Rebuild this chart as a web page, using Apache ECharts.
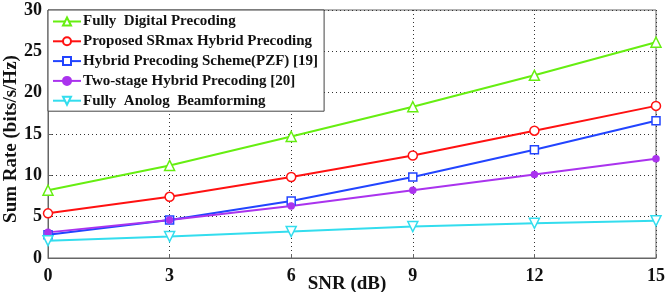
<!DOCTYPE html>
<html><head><meta charset="utf-8">
<script src="https://cdn.jsdelivr.net/npm/echarts@6/dist/echarts.min.js"></script>
<style>html,body{margin:0;padding:0;background:#fff}#c{width:665px;height:292px}</style>
</head><body><div id="c"></div>
<script>
const snr = [0, 3, 6, 9, 12, 15];
const names = ['Fully  Digital Precoding', 'Proposed SRmax Hybrid Precoding', 'Hybrid Precoding Scheme(PZF) [19]', 'Two-stage Hybrid Precoding [20]', 'Fully  Anolog  Beamforming'];
const digital = [8.2, 11.2, 14.7, 18.3, 22.1, 26.1];
const proposed = [5.4, 7.4, 9.8, 12.4, 15.4, 18.4];
const pzf = [2.8, 4.6, 6.9, 9.8, 13.1, 16.6];
const twoStage = [3.1, 4.6, 6.3, 8.2, 10.1, 12.0];
const analog = [2.1, 2.6, 3.2, 3.8, 4.2, 4.5];
const yTicks = [0, 5, 10, 15, 20, 25, 30];
const xTicks = [0, 3, 6, 9, 12, 15];

const font = 'Liberation Serif, Times New Roman, serif';
const pair = arr => snr.map((x, i) => [x, arr[i]]);
const mk = (name, data, color, symbol, size, hollow, rot) => ({
  name, type: 'line', data: pair(data), symbol, symbolSize: size, symbolRotate: rot || 0,
  lineStyle: { color, width: 2 },
  itemStyle: { color: hollow ? '#fff' : color, borderColor: color, borderWidth: 1.5 },
  emphasis: { disabled: true }, animation: false
});
const chart = echarts.init(document.getElementById('c'));
chart.setOption({
  animation: false,
  grid: { left: 48, right: 9, top: 10, bottom: 34, outerBoundsMode: 'none', containLabel: false, show: true, borderColor: '#666', borderWidth: 1, backgroundColor: 'transparent' },
  legend: {
    orient: 'vertical', left: 48, top: 10, data: names,
    itemWidth: 28, itemHeight: 10, itemGap: 4.8,
    padding: [4, 6, 3, 4], borderColor: '#444', borderWidth: 1, backgroundColor: '#fff',
    textStyle: { fontFamily: font, fontWeight: 'bold', fontSize: 15, color: '#111', padding: [0, 0, 0, -3] }
  },
  xAxis: {
    type: 'value', min: 0, max: 15, interval: 3,
    name: 'SNR (dB)', nameLocation: 'middle', nameGap: 17, nameMoveOverlap: false,
    nameTextStyle: { fontFamily: font, fontWeight: 'bold', fontSize: 19, color: '#111', padding: [0, 10, 0, 0], verticalAlign: 'top' },
    axisLine: { lineStyle: { color: '#666' } },
    axisTick: { inside: true, length: 4, lineStyle: { color: '#666' } },
    axisLabel: { fontFamily: font, fontWeight: 'bold', fontSize: 18, color: '#111', margin: 9 },
    splitLine: { show: true, lineStyle: { color: '#333', type: [1, 3], width: 1 } }
  },
  yAxis: {
    type: 'value', min: 0, max: 30, interval: 5,
    name: 'Sum Rate (bits/s/Hz)', nameLocation: 'middle', nameGap: 27, nameMoveOverlap: false,
    nameTextStyle: { fontFamily: font, fontWeight: 'bold', fontSize: 19, color: '#111', padding: [0, 10, 0, 0] },
    axisLine: { show: true, lineStyle: { color: '#666' } },
    axisTick: { show: true, inside: true, length: 4, lineStyle: { color: '#666' } },
    axisLabel: { fontFamily: font, fontWeight: 'bold', fontSize: 18, color: '#111', margin: 6 },
    splitLine: { show: true, lineStyle: { color: '#333', type: [1, 3], width: 1 } }
  },
  series: [
    mk(names[0], digital, '#66ee11', 'triangle', 10, true),
    mk(names[1], proposed, '#ff1111', 'circle', 9, true),
    mk(names[2], pzf, '#2244ff', 'rect', 8, true),
    mk(names[3], twoStage, '#aa33ee', 'circle', 6, false),
    mk(names[4], analog, '#33ddee', 'triangle', 10, true, 180)
  ]
});
</script></body></html>
